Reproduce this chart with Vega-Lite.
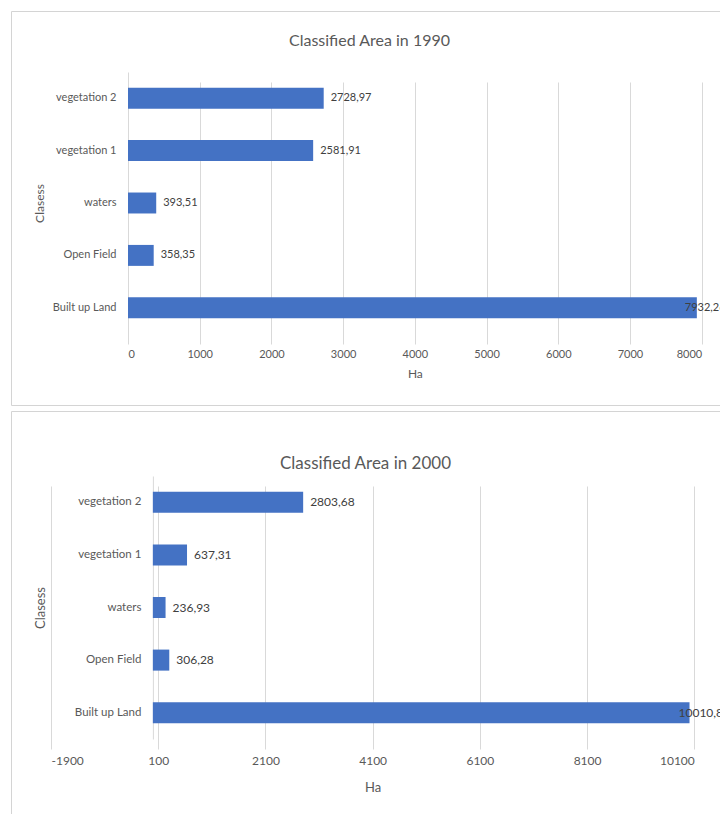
{
  "$schema": "https://vega.github.io/schema/vega-lite/v6.json",
  "padding": {"left": 10, "top": 10, "right": 0, "bottom": 0},
  "bounds": "flush",
  "spacing": 6,
  "config": {
    "locale": {"number": {"decimal": ",", "thousands": ".", "grouping": [3], "currency": ["", ""], "minus": "-"}},
    "font": "Lato",
    "view": {"stroke": "#d4d4d4", "strokeWidth": 1},
    "axis": {
      "labelColor": "#595959",
      "titleColor": "#595959",
      "titleFontWeight": "normal",
      "labelFont": "Lato",
      "titleFont": "Lato",
      "gridColor": "#d9d9d9",
      "domainColor": "#d9d9d9",
      "ticks": false
    },
    "title": {"color": "#595959", "fontWeight": "normal", "font": "Lato"}
  },
  "vconcat": [
    {
      "width": 709,
      "height": 394,
      "title": {"text": "Classified Area in 1990", "fontSize": 16, "offset": -46, "baseline": "middle", "frame": "group", "anchor": "middle", "dx": 4},
      "data": {"values": [
        {"class": "vegetation 2", "ha": 2728.97},
        {"class": "vegetation 1", "ha": 2581.91},
        {"class": "waters", "ha": 393.51},
        {"class": "Open Field", "ha": 358.35},
        {"class": "Built up Land", "ha": 7932.26}
      ]},
      "encoding": {
        "y": {
          "field": "class", "type": "nominal",
          "sort": ["vegetation 2", "vegetation 1", "waters", "Open Field", "Built up Land"],
          "scale": {"range": [61, 323], "paddingInner": 0.6, "paddingOuter": 0.3},
          "axis": {"title": "Clasess", "offset": -117, "labelPadding": 12, "labelFontSize": 11, "titleFontSize": 12, "titleX": -89, "titleBaseline": "middle", "domain": true, "grid": false}
        },
        "x": {
          "field": "ha", "type": "quantitative",
          "scale": {"domain": [0, 8000], "range": [117, 690.7], "nice": false},
          "axis": {"title": "Ha", "values": [0, 1000, 2000, 3000, 4000, 5000, 6000, 7000, 8000], "format": "d", "offset": -68, "domain": false, "grid": true, "labelPadding": 11, "labelFontSize": 11, "titleFontSize": 12, "titlePadding": 9}
        }
      },
      "layer": [
        {"mark": {"type": "bar", "color": "#4472C4"}},
        {
          "transform": [{"filter": "datum.ha < 7000"}],
          "mark": {"type": "text", "align": "left", "baseline": "middle", "dx": 7, "fontSize": 11, "color": "#404040"},
          "encoding": {"text": {"field": "ha", "type": "quantitative", "format": ".2f"}}
        },
        {
          "transform": [{"filter": "datum.ha >= 7000"}],
          "mark": {"type": "text", "align": "left", "baseline": "middle", "dx": -12, "fontSize": 11, "color": "#404040", "clip": true},
          "encoding": {"text": {"field": "ha", "type": "quantitative", "format": ".2f"}}
        }
      ]
    },
    {
      "width": 709,
      "height": 403,
      "title": {"text": "Classified Area in 2000", "fontSize": 17, "offset": -70, "baseline": "middle", "frame": "group", "anchor": "middle", "dx": 0},
      "data": {"values": [
        {"class": "vegetation 2", "ha": 2803.68},
        {"class": "vegetation 1", "ha": 637.31},
        {"class": "waters", "ha": 236.93},
        {"class": "Open Field", "ha": 306.28},
        {"class": "Built up Land", "ha": 10010.8}
      ]},
      "encoding": {
        "y": {
          "field": "class", "type": "nominal",
          "sort": ["vegetation 2", "vegetation 1", "waters", "Open Field", "Built up Land"],
          "scale": {"range": [65, 328], "paddingInner": 0.6, "paddingOuter": 0.3},
          "axis": {"title": "Clasess", "offset": -141.9, "labelPadding": 12, "labelFontSize": 11.5, "titleFontSize": 13, "titleX": -112, "titleBaseline": "middle", "domain": true, "grid": false}
        },
        "x": {
          "field": "ha", "type": "quantitative",
          "scale": {"domain": [-1900, 10100], "range": [40, 683.3], "nice": false, "zero": false},
          "axis": {"title": "Ha", "values": [-1900, 100, 2100, 4100, 6100, 8100, 10100], "format": "d", "offset": -75, "domain": false, "grid": true, "labelPadding": 16, "labelFontSize": 12, "titleFontSize": 13, "titlePadding": 15}
        }
      },
      "layer": [
        {"mark": {"type": "bar", "color": "#4472C4"}},
        {
          "transform": [{"filter": "datum.ha < 7000"}],
          "mark": {"type": "text", "align": "left", "baseline": "middle", "dx": 7, "fontSize": 12, "color": "#404040"},
          "encoding": {"text": {"field": "ha", "type": "quantitative", "format": ".2f"}}
        },
        {
          "transform": [{"filter": "datum.ha >= 7000"}],
          "mark": {"type": "text", "align": "left", "baseline": "middle", "dx": -11, "fontSize": 12, "color": "#404040", "clip": true},
          "encoding": {"text": {"field": "ha", "type": "quantitative", "format": ".2f"}}
        }
      ]
    }
  ]
}
